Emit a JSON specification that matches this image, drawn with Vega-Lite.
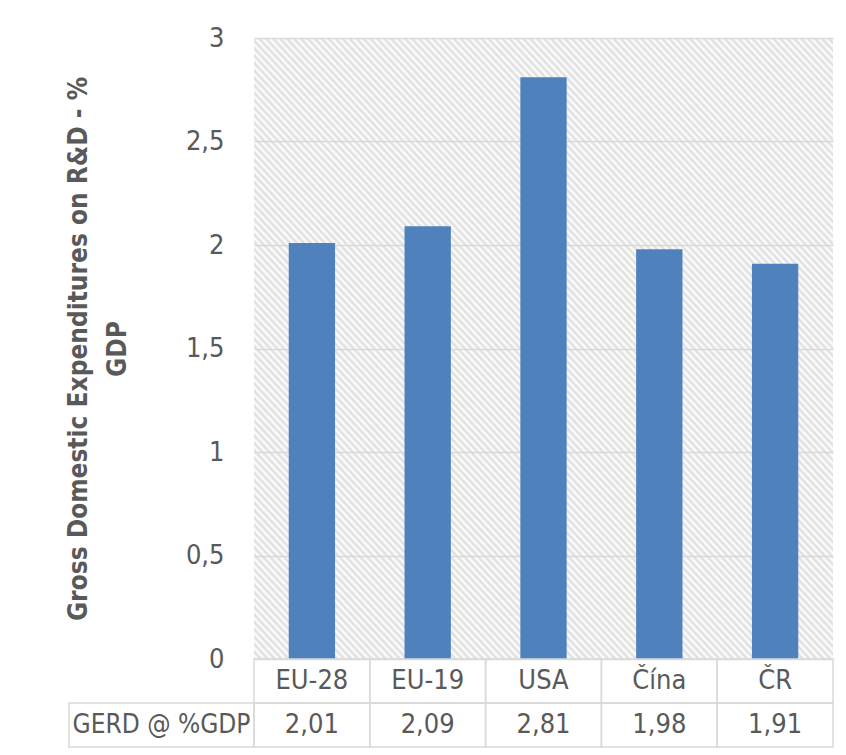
{
  "$schema": "https://vega.github.io/schema/vega-lite/v6.json",
  "padding": {"left": 65, "top": 24, "right": 14, "bottom": 0},
  "background": "white",
  "bounds": "flush",
  "spacing": 0,
  "columns": 2,
  "config": {
    "locale": {"number": {"decimal": ",", "thousands": " ", "grouping": [3], "currency": ["", ""]}},
    "concat": {"spacing": 0},
    "view": {"stroke": null},
    "font": "Liberation Sans Narrow, DejaVu Sans Condensed, Roboto Condensed, Roboto, sans-serif"
  },
  "datasets": {
    "gerd": [
      {"country": "EU-28", "gerd": 2.01},
      {"country": "EU-19", "gerd": 2.09},
      {"country": "USA", "gerd": 2.81},
      {"country": "Čína", "gerd": 1.98},
      {"country": "ČR", "gerd": 1.91}
    ],
    "header": [{"label": "GERD @ %GDP"}]
  },
  "concat": [
    {"width": 185, "height": 621, "data": {"values": []}, "mark": "text", "encoding": {}},
    {
      "width": 579,
      "height": 621,
      "data": {"name": "gerd"},
      "view": {"stroke": null, "fill": {"gradient": "linear", "x1": 0, "y1": 1, "x2": 1, "y2": 0, "stops": [
{"offset":0,"color":"#dcdcdc"},{"offset":0.003,"color":"#fff"},{"offset":0.006,"color":"#dcdcdc"},{"offset":0.009,"color":"#fff"},{"offset":0.012,"color":"#dcdcdc"},{"offset":0.015,"color":"#fff"},{"offset":0.018,"color":"#dcdcdc"},{"offset":0.021,"color":"#fff"},{"offset":0.024,"color":"#dcdcdc"},{"offset":0.027,"color":"#fff"},
{"offset":0.03,"color":"#dcdcdc"},{"offset":0.033,"color":"#fff"},{"offset":0.036,"color":"#dcdcdc"},{"offset":0.039,"color":"#fff"},{"offset":0.042,"color":"#dcdcdc"},{"offset":0.045,"color":"#fff"},{"offset":0.048,"color":"#dcdcdc"},{"offset":0.051,"color":"#fff"},{"offset":0.054,"color":"#dcdcdc"},{"offset":0.057,"color":"#fff"},
{"offset":0.06,"color":"#dcdcdc"},{"offset":0.063,"color":"#fff"},{"offset":0.066,"color":"#dcdcdc"},{"offset":0.069,"color":"#fff"},{"offset":0.072,"color":"#dcdcdc"},{"offset":0.075,"color":"#fff"},{"offset":0.078,"color":"#dcdcdc"},{"offset":0.081,"color":"#fff"},{"offset":0.084,"color":"#dcdcdc"},{"offset":0.087,"color":"#fff"},
{"offset":0.09,"color":"#dcdcdc"},{"offset":0.093,"color":"#fff"},{"offset":0.096,"color":"#dcdcdc"},{"offset":0.099,"color":"#fff"},{"offset":0.102,"color":"#dcdcdc"},{"offset":0.105,"color":"#fff"},{"offset":0.108,"color":"#dcdcdc"},{"offset":0.111,"color":"#fff"},{"offset":0.114,"color":"#dcdcdc"},{"offset":0.117,"color":"#fff"},
{"offset":0.12,"color":"#dcdcdc"},{"offset":0.123,"color":"#fff"},{"offset":0.126,"color":"#dcdcdc"},{"offset":0.129,"color":"#fff"},{"offset":0.132,"color":"#dcdcdc"},{"offset":0.135,"color":"#fff"},{"offset":0.138,"color":"#dcdcdc"},{"offset":0.141,"color":"#fff"},{"offset":0.144,"color":"#dcdcdc"},{"offset":0.147,"color":"#fff"},
{"offset":0.15,"color":"#dcdcdc"},{"offset":0.153,"color":"#fff"},{"offset":0.156,"color":"#dcdcdc"},{"offset":0.159,"color":"#fff"},{"offset":0.162,"color":"#dcdcdc"},{"offset":0.165,"color":"#fff"},{"offset":0.168,"color":"#dcdcdc"},{"offset":0.171,"color":"#fff"},{"offset":0.174,"color":"#dcdcdc"},{"offset":0.177,"color":"#fff"},
{"offset":0.18,"color":"#dcdcdc"},{"offset":0.183,"color":"#fff"},{"offset":0.186,"color":"#dcdcdc"},{"offset":0.189,"color":"#fff"},{"offset":0.192,"color":"#dcdcdc"},{"offset":0.195,"color":"#fff"},{"offset":0.198,"color":"#dcdcdc"},{"offset":0.201,"color":"#fff"},{"offset":0.204,"color":"#dcdcdc"},{"offset":0.207,"color":"#fff"},
{"offset":0.21,"color":"#dcdcdc"},{"offset":0.213,"color":"#fff"},{"offset":0.216,"color":"#dcdcdc"},{"offset":0.219,"color":"#fff"},{"offset":0.222,"color":"#dcdcdc"},{"offset":0.225,"color":"#fff"},{"offset":0.228,"color":"#dcdcdc"},{"offset":0.231,"color":"#fff"},{"offset":0.234,"color":"#dcdcdc"},{"offset":0.237,"color":"#fff"},
{"offset":0.24,"color":"#dcdcdc"},{"offset":0.243,"color":"#fff"},{"offset":0.246,"color":"#dcdcdc"},{"offset":0.249,"color":"#fff"},{"offset":0.252,"color":"#dcdcdc"},{"offset":0.255,"color":"#fff"},{"offset":0.258,"color":"#dcdcdc"},{"offset":0.261,"color":"#fff"},{"offset":0.264,"color":"#dcdcdc"},{"offset":0.267,"color":"#fff"},
{"offset":0.27,"color":"#dcdcdc"},{"offset":0.273,"color":"#fff"},{"offset":0.276,"color":"#dcdcdc"},{"offset":0.279,"color":"#fff"},{"offset":0.282,"color":"#dcdcdc"},{"offset":0.285,"color":"#fff"},{"offset":0.288,"color":"#dcdcdc"},{"offset":0.291,"color":"#fff"},{"offset":0.294,"color":"#dcdcdc"},{"offset":0.297,"color":"#fff"},
{"offset":0.3,"color":"#dcdcdc"},{"offset":0.303,"color":"#fff"},{"offset":0.306,"color":"#dcdcdc"},{"offset":0.309,"color":"#fff"},{"offset":0.312,"color":"#dcdcdc"},{"offset":0.315,"color":"#fff"},{"offset":0.318,"color":"#dcdcdc"},{"offset":0.321,"color":"#fff"},{"offset":0.324,"color":"#dcdcdc"},{"offset":0.327,"color":"#fff"},
{"offset":0.33,"color":"#dcdcdc"},{"offset":0.333,"color":"#fff"},{"offset":0.336,"color":"#dcdcdc"},{"offset":0.339,"color":"#fff"},{"offset":0.342,"color":"#dcdcdc"},{"offset":0.345,"color":"#fff"},{"offset":0.348,"color":"#dcdcdc"},{"offset":0.351,"color":"#fff"},{"offset":0.354,"color":"#dcdcdc"},{"offset":0.357,"color":"#fff"},
{"offset":0.36,"color":"#dcdcdc"},{"offset":0.363,"color":"#fff"},{"offset":0.366,"color":"#dcdcdc"},{"offset":0.369,"color":"#fff"},{"offset":0.372,"color":"#dcdcdc"},{"offset":0.375,"color":"#fff"},{"offset":0.378,"color":"#dcdcdc"},{"offset":0.381,"color":"#fff"},{"offset":0.384,"color":"#dcdcdc"},{"offset":0.387,"color":"#fff"},
{"offset":0.39,"color":"#dcdcdc"},{"offset":0.393,"color":"#fff"},{"offset":0.396,"color":"#dcdcdc"},{"offset":0.399,"color":"#fff"},{"offset":0.402,"color":"#dcdcdc"},{"offset":0.405,"color":"#fff"},{"offset":0.408,"color":"#dcdcdc"},{"offset":0.411,"color":"#fff"},{"offset":0.414,"color":"#dcdcdc"},{"offset":0.417,"color":"#fff"},
{"offset":0.42,"color":"#dcdcdc"},{"offset":0.423,"color":"#fff"},{"offset":0.426,"color":"#dcdcdc"},{"offset":0.429,"color":"#fff"},{"offset":0.432,"color":"#dcdcdc"},{"offset":0.435,"color":"#fff"},{"offset":0.438,"color":"#dcdcdc"},{"offset":0.441,"color":"#fff"},{"offset":0.444,"color":"#dcdcdc"},{"offset":0.447,"color":"#fff"},
{"offset":0.45,"color":"#dcdcdc"},{"offset":0.453,"color":"#fff"},{"offset":0.456,"color":"#dcdcdc"},{"offset":0.459,"color":"#fff"},{"offset":0.462,"color":"#dcdcdc"},{"offset":0.465,"color":"#fff"},{"offset":0.468,"color":"#dcdcdc"},{"offset":0.471,"color":"#fff"},{"offset":0.474,"color":"#dcdcdc"},{"offset":0.477,"color":"#fff"},
{"offset":0.48,"color":"#dcdcdc"},{"offset":0.483,"color":"#fff"},{"offset":0.486,"color":"#dcdcdc"},{"offset":0.489,"color":"#fff"},{"offset":0.492,"color":"#dcdcdc"},{"offset":0.495,"color":"#fff"},{"offset":0.498,"color":"#dcdcdc"},{"offset":0.501,"color":"#fff"},{"offset":0.504,"color":"#dcdcdc"},{"offset":0.507,"color":"#fff"},
{"offset":0.51,"color":"#dcdcdc"},{"offset":0.513,"color":"#fff"},{"offset":0.516,"color":"#dcdcdc"},{"offset":0.519,"color":"#fff"},{"offset":0.522,"color":"#dcdcdc"},{"offset":0.525,"color":"#fff"},{"offset":0.528,"color":"#dcdcdc"},{"offset":0.531,"color":"#fff"},{"offset":0.534,"color":"#dcdcdc"},{"offset":0.537,"color":"#fff"},
{"offset":0.54,"color":"#dcdcdc"},{"offset":0.543,"color":"#fff"},{"offset":0.546,"color":"#dcdcdc"},{"offset":0.549,"color":"#fff"},{"offset":0.552,"color":"#dcdcdc"},{"offset":0.555,"color":"#fff"},{"offset":0.558,"color":"#dcdcdc"},{"offset":0.561,"color":"#fff"},{"offset":0.564,"color":"#dcdcdc"},{"offset":0.567,"color":"#fff"},
{"offset":0.57,"color":"#dcdcdc"},{"offset":0.573,"color":"#fff"},{"offset":0.576,"color":"#dcdcdc"},{"offset":0.579,"color":"#fff"},{"offset":0.582,"color":"#dcdcdc"},{"offset":0.585,"color":"#fff"},{"offset":0.588,"color":"#dcdcdc"},{"offset":0.591,"color":"#fff"},{"offset":0.594,"color":"#dcdcdc"},{"offset":0.597,"color":"#fff"},
{"offset":0.6,"color":"#dcdcdc"},{"offset":0.603,"color":"#fff"},{"offset":0.606,"color":"#dcdcdc"},{"offset":0.609,"color":"#fff"},{"offset":0.612,"color":"#dcdcdc"},{"offset":0.615,"color":"#fff"},{"offset":0.618,"color":"#dcdcdc"},{"offset":0.621,"color":"#fff"},{"offset":0.624,"color":"#dcdcdc"},{"offset":0.627,"color":"#fff"},
{"offset":0.63,"color":"#dcdcdc"},{"offset":0.633,"color":"#fff"},{"offset":0.636,"color":"#dcdcdc"},{"offset":0.639,"color":"#fff"},{"offset":0.642,"color":"#dcdcdc"},{"offset":0.645,"color":"#fff"},{"offset":0.648,"color":"#dcdcdc"},{"offset":0.651,"color":"#fff"},{"offset":0.654,"color":"#dcdcdc"},{"offset":0.657,"color":"#fff"},
{"offset":0.66,"color":"#dcdcdc"},{"offset":0.663,"color":"#fff"},{"offset":0.666,"color":"#dcdcdc"},{"offset":0.669,"color":"#fff"},{"offset":0.672,"color":"#dcdcdc"},{"offset":0.675,"color":"#fff"},{"offset":0.678,"color":"#dcdcdc"},{"offset":0.681,"color":"#fff"},{"offset":0.684,"color":"#dcdcdc"},{"offset":0.687,"color":"#fff"},
{"offset":0.69,"color":"#dcdcdc"},{"offset":0.693,"color":"#fff"},{"offset":0.696,"color":"#dcdcdc"},{"offset":0.699,"color":"#fff"},{"offset":0.702,"color":"#dcdcdc"},{"offset":0.705,"color":"#fff"},{"offset":0.708,"color":"#dcdcdc"},{"offset":0.711,"color":"#fff"},{"offset":0.714,"color":"#dcdcdc"},{"offset":0.717,"color":"#fff"},
{"offset":0.72,"color":"#dcdcdc"},{"offset":0.723,"color":"#fff"},{"offset":0.726,"color":"#dcdcdc"},{"offset":0.729,"color":"#fff"},{"offset":0.732,"color":"#dcdcdc"},{"offset":0.735,"color":"#fff"},{"offset":0.738,"color":"#dcdcdc"},{"offset":0.741,"color":"#fff"},{"offset":0.744,"color":"#dcdcdc"},{"offset":0.747,"color":"#fff"},
{"offset":0.75,"color":"#dcdcdc"},{"offset":0.753,"color":"#fff"},{"offset":0.756,"color":"#dcdcdc"},{"offset":0.759,"color":"#fff"},{"offset":0.762,"color":"#dcdcdc"},{"offset":0.765,"color":"#fff"},{"offset":0.768,"color":"#dcdcdc"},{"offset":0.771,"color":"#fff"},{"offset":0.774,"color":"#dcdcdc"},{"offset":0.777,"color":"#fff"},
{"offset":0.78,"color":"#dcdcdc"},{"offset":0.783,"color":"#fff"},{"offset":0.786,"color":"#dcdcdc"},{"offset":0.789,"color":"#fff"},{"offset":0.792,"color":"#dcdcdc"},{"offset":0.795,"color":"#fff"},{"offset":0.798,"color":"#dcdcdc"},{"offset":0.801,"color":"#fff"},{"offset":0.804,"color":"#dcdcdc"},{"offset":0.807,"color":"#fff"},
{"offset":0.81,"color":"#dcdcdc"},{"offset":0.813,"color":"#fff"},{"offset":0.816,"color":"#dcdcdc"},{"offset":0.819,"color":"#fff"},{"offset":0.822,"color":"#dcdcdc"},{"offset":0.825,"color":"#fff"},{"offset":0.828,"color":"#dcdcdc"},{"offset":0.831,"color":"#fff"},{"offset":0.834,"color":"#dcdcdc"},{"offset":0.837,"color":"#fff"},
{"offset":0.84,"color":"#dcdcdc"},{"offset":0.843,"color":"#fff"},{"offset":0.846,"color":"#dcdcdc"},{"offset":0.849,"color":"#fff"},{"offset":0.852,"color":"#dcdcdc"},{"offset":0.855,"color":"#fff"},{"offset":0.858,"color":"#dcdcdc"},{"offset":0.861,"color":"#fff"},{"offset":0.864,"color":"#dcdcdc"},{"offset":0.867,"color":"#fff"},
{"offset":0.87,"color":"#dcdcdc"},{"offset":0.873,"color":"#fff"},{"offset":0.876,"color":"#dcdcdc"},{"offset":0.879,"color":"#fff"},{"offset":0.882,"color":"#dcdcdc"},{"offset":0.885,"color":"#fff"},{"offset":0.888,"color":"#dcdcdc"},{"offset":0.891,"color":"#fff"},{"offset":0.894,"color":"#dcdcdc"},{"offset":0.897,"color":"#fff"},
{"offset":0.9,"color":"#dcdcdc"},{"offset":0.903,"color":"#fff"},{"offset":0.906,"color":"#dcdcdc"},{"offset":0.909,"color":"#fff"},{"offset":0.912,"color":"#dcdcdc"},{"offset":0.915,"color":"#fff"},{"offset":0.918,"color":"#dcdcdc"},{"offset":0.921,"color":"#fff"},{"offset":0.924,"color":"#dcdcdc"},{"offset":0.927,"color":"#fff"},
{"offset":0.93,"color":"#dcdcdc"},{"offset":0.933,"color":"#fff"},{"offset":0.936,"color":"#dcdcdc"},{"offset":0.939,"color":"#fff"},{"offset":0.942,"color":"#dcdcdc"},{"offset":0.945,"color":"#fff"},{"offset":0.948,"color":"#dcdcdc"},{"offset":0.951,"color":"#fff"},{"offset":0.954,"color":"#dcdcdc"},{"offset":0.957,"color":"#fff"},
{"offset":0.96,"color":"#dcdcdc"},{"offset":0.963,"color":"#fff"},{"offset":0.966,"color":"#dcdcdc"},{"offset":0.969,"color":"#fff"},{"offset":0.972,"color":"#dcdcdc"},{"offset":0.975,"color":"#fff"},{"offset":0.978,"color":"#dcdcdc"},{"offset":0.981,"color":"#fff"},{"offset":0.984,"color":"#dcdcdc"},{"offset":0.987,"color":"#fff"},
{"offset":0.99,"color":"#dcdcdc"},{"offset":0.993,"color":"#fff"},{"offset":0.996,"color":"#dcdcdc"},{"offset":0.999,"color":"#fff"},{"offset":1,"color":"#dcdcdc"}
      ]}},
      "mark": {"type": "bar", "color": "#4F81BD"},
      "encoding": {
        "x": {"field": "country", "type": "nominal", "sort": null, "scale": {"paddingInner": 0.6, "paddingOuter": 0.3}, "axis": null},
        "y": {
          "field": "gerd", "type": "quantitative",
          "scale": {"domain": [0, 3]},
          "axis": {
            "title": ["Gross Domestic Expenditures on R&D - %", "GDP"],
            "values": [0, 0.5, 1, 1.5, 2, 2.5, 3],
            "format": ".1~f",
            "grid": true, "gridColor": "#d9d9d9", "gridWidth": 1.5,
            "domain": false, "ticks": false,
            "labelFontSize": 27, "labelColor": "#595959", "labelPadding": 30,
            "titleFontSize": 26, "titleFontWeight": "bold", "titleColor": "#595959",
            "titlePadding": 55, "titleLineHeight": 39
          }
        }
      }
    },
    {
      "width": 185,
      "height": 88,
      "data": {"name": "header"},
      "layer": [
        {
          "mark": {"type": "rect", "filled": false, "color": "#d9d9d9", "strokeWidth": 1.5},
          "encoding": {"y": {"datum": "r2", "type": "nominal", "scale": {"domain": ["r1", "r2"], "paddingInner": 0, "paddingOuter": 0}, "axis": null}}
        },
        {
          "mark": {"type": "text", "fontSize": 26, "color": "#595959"},
          "encoding": {"y": {"datum": "r2", "type": "nominal"}, "text": {"field": "label"}}
        }
      ]
    },
    {
      "width": 579,
      "height": 88,
      "data": {"name": "gerd"},
      "encoding": {
        "x": {"field": "country", "type": "nominal", "sort": null, "scale": {"paddingInner": 0, "paddingOuter": 0}, "axis": null}
      },
      "layer": [
        {
          "mark": {"type": "rect", "filled": false, "color": "#d9d9d9", "strokeWidth": 1.5},
          "encoding": {"y": {"datum": "r1", "type": "nominal", "scale": {"domain": ["r1", "r2"], "paddingInner": 0, "paddingOuter": 0}, "axis": null}}
        },
        {
          "mark": {"type": "rect", "filled": false, "color": "#d9d9d9", "strokeWidth": 1.5},
          "encoding": {"y": {"datum": "r2", "type": "nominal"}}
        },
        {
          "mark": {"type": "text", "fontSize": 27, "color": "#595959"},
          "encoding": {"y": {"datum": "r1", "type": "nominal"}, "text": {"field": "country"}}
        },
        {
          "mark": {"type": "text", "fontSize": 27, "color": "#595959"},
          "encoding": {"y": {"datum": "r2", "type": "nominal"}, "text": {"field": "gerd", "type": "quantitative", "format": ".2f"}}
        }
      ]
    }
  ]
}
